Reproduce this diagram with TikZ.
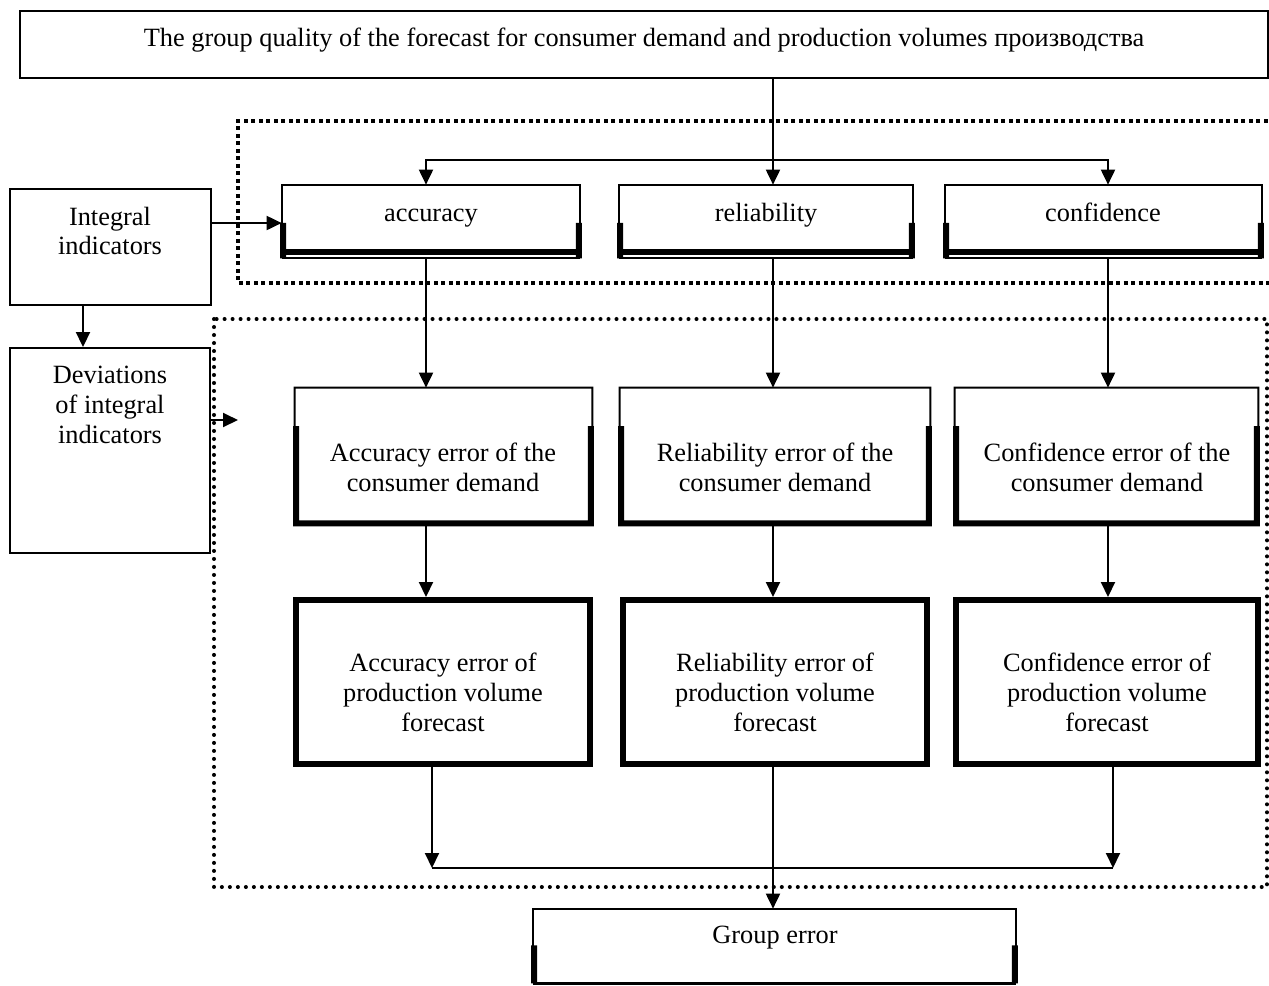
\documentclass[tikz,border=0pt]{standalone}
\usepackage{fontspec}
\setmainfont{Liberation Serif}
\usetikzlibrary{arrows.meta,calc,fit}

\begin{document}
\begin{tikzpicture}[x=0.02cm, y=-0.02cm,
    thinline/.style={line width=1.1pt},
    thickline/.style={line width=3.4pt},
    area/.style={fit={#1}, inner sep=0pt},
    lbl/.style={font=\fontsize{15pt}{17pt}\selectfont, align=center, inner sep=0pt},
    arr/.style={thinline, -{Triangle[length=0.3cm, width=0.28cm]}},
    arrtwo/.style={thinline, {Triangle[length=0.3cm, width=0.28cm]}-{Triangle[length=0.3cm, width=0.28cm]}},
    rounddots/.style={line width=2.3pt, line cap=round, dash pattern=on 0pt off 0.16cm},
    squaredots/.style={line width=2.3pt, dash pattern=on 0.08cm off 0.07cm}]
    \useasboundingbox (0,0) rectangle (1269,985);

    % frames
    \draw[squaredots] (1290,121) -- (238,121) -- (238,283) -- (1290,283);
    \draw[rounddots] (214,319) rectangle (1267,887);

    \node[area={(20,11) (1268,78)}, draw, thinline] (title) {};
    \node[lbl, anchor=base] (titlet) at (644,46) {The group quality of the forecast for consumer demand and production volumes производства};

    \node[area={(282,185) (580,258)}] (acc) {};
    \node[area={(619,185) (913,258)}] (rel) {};
    \node[area={(945,185) (1262,258)}] (conf) {};
    \node[lbl, anchor=base] (acct) at (431,221) {accuracy};
    \node[lbl, anchor=base] (relt) at (766,221) {reliability};
    \node[lbl, anchor=base] (conft) at (1103,221) {confidence};

    \node[area={(10,189) (211,305)}, draw, thinline] (intg) {};
    \node[lbl] (intgt) at (110,231) {Integral\\indicators};
    \node[area={(10,348) (210,553)}, draw, thinline] (dev) {};
    \node[lbl] (devt) at (110,405) {Deviations\\of integral\\indicators};

    \node[area={(295,388) (592,525)}] (cacc) {};
    \node[area={(620,388) (930,525)}] (crel) {};
    \node[area={(955,388) (1258,525)}] (cconf) {};
    \node[lbl] (cacct) at (443,467) {Accuracy error of the\\consumer demand};
    \node[lbl] (crelt) at (775,467) {Reliability error of the\\consumer demand};
    \node[lbl] (cconft) at (1107,467) {Confidence error of the\\consumer demand};

    \node[area={(296,600) (590,764)}, draw, thickline] (pacc) {};
    \node[area={(623,600) (927,764)}, draw, thickline] (prel) {};
    \node[area={(956,600) (1258,764)}, draw, thickline] (pconf) {};
    \node[lbl] (pacct) at (443,692) {Accuracy error of\\production volume\\forecast};
    \node[lbl] (prelt) at (775,692) {Reliability error of\\production volume\\forecast};
    \node[lbl] (pconft) at (1107,692) {Confidence error of\\production volume\\forecast};

    \node[area={(533,909) (1016,983)}] (grp) {};
    \node[lbl, anchor=base] (grpt) at (775,943) {Group error};

    % half-bold boxes
    \foreach \b/\f in {acc/0.52, rel/0.52, conf/0.52, grp/0.49} {
      \draw[thinline] (\b.south west) -- (\b.north west) -- (\b.north east) -- (\b.south east);
      \draw[thickline] ($(\b.north west)!\f!(\b.south west)+(1.5,0)$) -- ($(\b.south west)+(1.5,0)$);
      \draw[thickline] ($(\b.north east)!\f!(\b.south east)+(-1.5,0)$) -- ($(\b.south east)+(-1.5,0)$);
    }
    \foreach \b in {acc,rel,conf} {
      \draw[thinline] (\b.south west) -- (\b.south east);
      \draw[thickline] ($(\b.south west)+(0,-6)$) -- ($(\b.south east)+(0,-6)$);
    }
    \draw[line width=1.7pt] (grp.south west) -- (grp.south east);
    \foreach \b in {cacc,crel,cconf} {
      \draw[thinline] ($(\b.north west)!0.3!(\b.south west)$) -- (\b.north west) -- (\b.north east) -- ($(\b.north east)!0.3!(\b.south east)$);
      \draw[thickline] ($(\b.north west)!0.28!(\b.south west)+(1.5,0)$) -- ($(\b.south west)+(1.5,-2)$)
        -- ($(\b.south east)+(-1.5,-2)$) -- ($(\b.north east)!0.28!(\b.south east)+(-1.5,0)$);
    }

    % connectors
    \coordinate (c1) at (426,160);
    \coordinate (c2) at (773,160);
    \coordinate (c3) at (1108,160);
    \coordinate (iy) at (0,223);
    \coordinate (ix) at (83,0);
    \coordinate (devtip) at (238,420);
    \coordinate (d1) at (432,868);
    \coordinate (d3) at (1113,868);
    \draw[arr] (title.south -| c2) -- (rel.north -| c2);
    \draw[arrtwo] (acc.north -| c1) |- (c2) -| (conf.north -| c3);
    \draw[arr] (intg.east |- iy) -- (acc.west |- iy);
    \draw[arr] (intg.south -| ix) -- (dev.north -| ix);
    \draw[arr] (dev.east |- devtip) -- (devtip);
    \draw[arr] (acc.south -| c1) -- (cacc.north -| c1);
    \draw[arr] (rel.south -| c2) -- (crel.north -| c2);
    \draw[arr] (conf.south -| c3) -- (cconf.north -| c3);
    \draw[arr] (cacc.south -| c1) -- (pacc.north -| c1);
    \draw[arr] (crel.south -| c2) -- (prel.north -| c2);
    \draw[arr] (cconf.south -| c3) -- (pconf.north -| c3);
    \draw[arr] (pacc.south -| d1) -- (d1);
    \draw[arr] (pconf.south -| d3) -- (d3);
    \draw[thinline] (d1) -- (d3);
    \draw[arr] (prel.south -| c2) -- (grp.north -| c2);
\end{tikzpicture}
\end{document}
